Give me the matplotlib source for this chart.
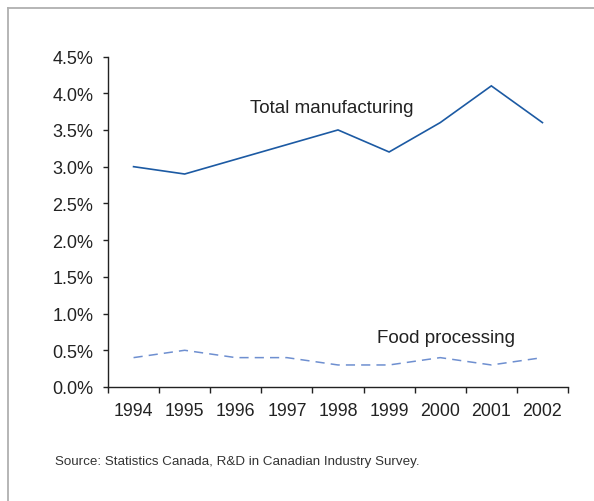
import matplotlib
matplotlib.use("Agg")
import matplotlib.pyplot as plt
from matplotlib.lines import Line2D
from matplotlib.ticker import FixedLocator, FuncFormatter

years = ["1994", "1995", "1996", "1997", "1998", "1999", "2000", "2001", "2002"]
total_manufacturing = [3.0, 2.9, 3.1, 3.3, 3.5, 3.2, 3.6, 4.1, 3.6]
food_processing = [0.4, 0.5, 0.4, 0.4, 0.3, 0.3, 0.4, 0.3, 0.4]
y_ticks = [0.0, 0.5, 1.0, 1.5, 2.0, 2.5, 3.0, 3.5, 4.0, 4.5]
source_note = "Source: Statistics Canada, R&D in Canadian Industry Survey."

plt.rcParams["font.family"] = ["Liberation Sans", "DejaVu Sans"]
W, H, DPI = 594, 502, 100
fig = plt.figure(figsize=(W / DPI, H / DPI), dpi=DPI)
fig.patch.set_facecolor("white")

ax = fig.add_axes([108 / W, 1 - 388 / H, (568 - 108) / W, (388 - 57.5) / H])
x = list(range(len(years)))

ax.plot(x, total_manufacturing, color="#1c5aa3", lw=1.2, solid_joinstyle="miter")
ax.plot(x, food_processing, color="#6e8fd0", lw=1.1, linestyle=(0, (6, 4)))

ax.set_xlim(-0.5, len(years) - 0.5)
ax.set_ylim(0, 4.5)

for side in ("top", "right"):
    ax.spines[side].set_visible(False)
for side in ("left", "bottom"):
    ax.spines[side].set_color("#222222")
    ax.spines[side].set_linewidth(1.0)

ax.set_xticks(x)
ax.set_xticklabels(years)
ax.xaxis.set_minor_locator(FixedLocator([i - 0.5 for i in range(len(years) + 1)]))
ax.tick_params(axis="x", which="major", length=0, pad=11, labelsize=12.8, labelcolor="#222222")
ax.tick_params(axis="x", which="minor", length=4.5, width=1.0, color="#222222", direction="out")

ax.set_yticks(y_ticks)
ax.yaxis.set_major_formatter(FuncFormatter(lambda v, p: f"{v:.1f}%"))
ax.tick_params(axis="y", length=3.5, width=1.0, color="#222222", pad=7, labelsize=13, labelcolor="#222222")

ax.text(3.88, 3.81, "Total manufacturing", fontsize=13.5, color="#222222", ha="center", va="center")
ax.text(6.11, 0.68, "Food processing", fontsize=13.5, color="#222222", ha="center", va="center")

fig.text(55 / W, 1 - 462 / H, source_note, fontsize=9.6, color="#333333", ha="left", va="center")

border = dict(color="#b0b0b0", lw=1.3, transform=fig.transFigure)
fig.add_artist(Line2D([8 / W, 1], [1 - 9 / H, 1 - 9 / H], **border))
fig.add_artist(Line2D([8 / W, 8 / W], [0, 1 - 9 / H], **border))

fig.savefig("out.png", dpi=DPI, facecolor="white")
